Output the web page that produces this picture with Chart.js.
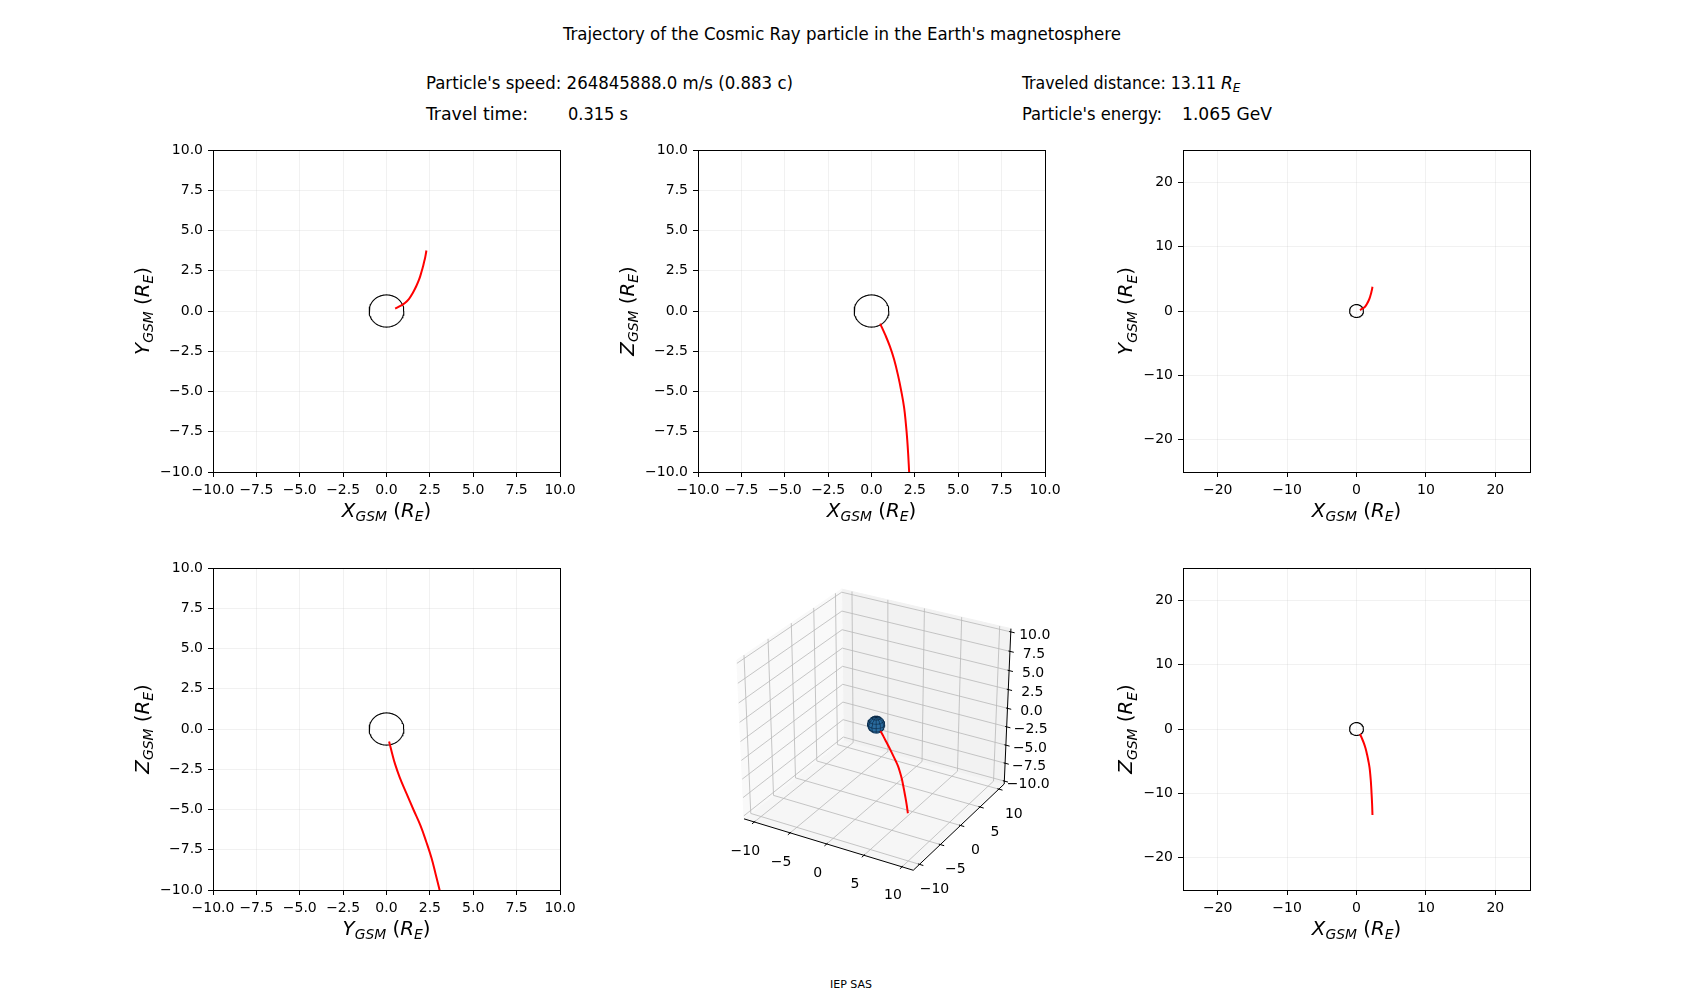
<!DOCTYPE html>
<html>
<head>
<meta charset="utf-8">
<script src="https://cdn.jsdelivr.net/npm/chart.js@4.4.0/dist/chart.umd.min.js"></script>
<style>
  body { margin: 0; background: #fff; width: 1700px; height: 1000px; position: relative; overflow: hidden; }
  canvas { position: absolute; }
  .txt { position: absolute; white-space: nowrap; font-family: 'DejaVu Sans Condensed', 'DejaVu Sans', sans-serif;
         font-size: 17px; line-height: 20px; height: 20px; transform-origin: 0 50%; color: #000; }
  .math { position: absolute; white-space: nowrap; font-family: 'DejaVu Sans', sans-serif; font-size: 17px;
          line-height: 20px; height: 20px; color: #000; }
  .math sub { font-size: 12px; vertical-align: -3px; }
  #foot { position: absolute; left: 0; width: 1702px; top: 978px; text-align: center;
          font-family: 'DejaVu Sans', sans-serif; font-size: 11px; color: #000; }
</style>
</head>
<body>
<div class="txt" data-w="558" style="left:563px;top:24px">Trajectory of the Cosmic Ray particle in the Earth's magnetosphere</div>
<div class="txt" data-w="367" style="left:426px;top:73px">Particle's speed: 264845888.0 m/s (0.883 c)</div>
<div class="txt" data-w="102" style="left:426px;top:104px">Travel time:</div>
<div class="txt" data-w="60" style="left:568px;top:104px">0.315 s</div>
<div class="txt" data-w="194" style="left:1022px;top:73px">Traveled distance: 13.11</div>
<div class="math" style="left:1221px;top:73px"><i>R</i><sub><i>E</i></sub></div>
<div class="txt" data-w="140" style="left:1022px;top:104px">Particle's energy:</div>
<div class="txt" data-w="90" style="left:1182px;top:104px">1.065 GeV</div>
<div id="foot">IEP SAS</div>

<script>
// trajectory of the particle (in Earth radii)
const trajX = [0.50, 0.80, 1.06, 1.30, 1.53, 1.72, 1.88, 1.98, 2.06, 2.12, 2.17, 2.22, 2.26, 2.30];
const trajY = [0.15, 0.32, 0.50, 0.76, 1.15, 1.55, 1.96, 2.29, 2.59, 2.83, 3.06, 3.28, 3.50, 3.76];
const trajZ = [-0.78, -1.5, -2.2, -3.0, -4.0, -5.0, -6.0, -7.0, -8.0, -9.0, -10.0, -11.0, -12.0, -13.35];
const earthRadius = 1;

// tick values
const ticksNear = [-10, -7.5, -5, -2.5, 0, 2.5, 5, 7.5, 10];
const ticksWide = [-20, -10, 0, 10, 20];
const ticks3dXY = [-10, -5, 0, 5, 10];
const ticks3dZ = [-10, -7.5, -5, -2.5, 0, 2.5, 5, 7.5, 10];

const traj = { x: trajX, y: trajY, z: trajZ };

// layout of the subplots (page pixels)
const PANEL_W = 347, PANEL_H = 322;
const PAD_L = 110, PAD_T = 15, PAD_R = 30, PAD_B = 65;
const LABEL_SIZE = 19.8;
const TICK_FONT = { family: 'DejaVu Sans', size: 14 };

const panels = [
  { left: 213,  top: 150, h: 'x', v: 'y', lim: 10, ticks: ticksNear, dec: 1 },
  { left: 698,  top: 150, h: 'x', v: 'z', lim: 10, ticks: ticksNear, dec: 1 },
  { left: 1183, top: 150, h: 'x', v: 'y', lim: 25, ticks: ticksWide, dec: 0 },
  { left: 213,  top: 568, h: 'y', v: 'z', lim: 10, ticks: ticksNear, dec: 1 },
  { left: 1183, top: 568, h: 'x', v: 'z', lim: 25, ticks: ticksWide, dec: 0 }
];

function fmt(v, dec) {
  return (v < 0 ? '\u2212' : '') + Math.abs(v).toFixed(dec);
}

function axisLabel(letter) {
  return [
    { t: letter, it: true }, { t: 'GSM', it: true, sub: true },
    { t: ' (' }, { t: 'R', it: true }, { t: 'E', it: true, sub: true }, { t: ')' }
  ];
}

function drawMath(ctx, parts, x0, y0, size, rot) {
  ctx.save();
  ctx.translate(x0, y0);
  ctx.rotate(rot);
  ctx.fillStyle = '#000';
  ctx.textBaseline = 'alphabetic';
  ctx.textAlign = 'left';
  let w = 0;
  const segs = parts.map(p => {
    const fs = p.sub ? size * 0.7 : size;
    const font = (p.it ? 'italic ' : '') + fs + 'px "DejaVu Sans"';
    ctx.font = font;
    const m = ctx.measureText(p.t).width;
    w += m;
    return { t: p.t, sub: p.sub, font: font, m: m };
  });
  let x = -w / 2;
  segs.forEach(s => {
    ctx.font = s.font;
    ctx.fillText(s.t, x, s.sub ? size * 0.22 : 0);
    x += s.m;
  });
  ctx.restore();
}

// black box around the axes
const framePlugin = {
  id: 'frame',
  afterDatasetsDraw(chart) {
    const a = chart.chartArea, ctx = chart.ctx;
    ctx.save();
    ctx.strokeStyle = '#000';
    ctx.lineWidth = 1;
    ctx.strokeRect(a.left + 0.5, a.top + 0.5, a.right - a.left, a.bottom - a.top);
    ctx.restore();
  }
};

// axis titles with subscripts
const mathLabels = {
  id: 'mathLabels',
  afterDraw(chart, args, opts) {
    if (!opts || !opts.x) return;
    const ctx = chart.ctx, a = chart.chartArea;
    drawMath(ctx, opts.x, (a.left + a.right) / 2, a.bottom + 45, LABEL_SIZE, 0);
    ctx.font = TICK_FONT.size + 'px "DejaVu Sans"';
    const widest = Math.max(...chart.scales.y.ticks.map(t => ctx.measureText(t.label).width));
    drawMath(ctx, opts.y, a.left - 10 - widest - 11, (a.top + a.bottom) / 2, LABEL_SIZE, -Math.PI / 2);
  }
};

function earthCircle() {
  const pts = [];
  for (let i = 0; i <= 72; i++) {
    const t = i / 72 * 2 * Math.PI;
    pts.push({ x: earthRadius * Math.cos(t), y: earthRadius * Math.sin(t) });
  }
  return pts;
}

function scaleOpts(p, fit) {
  return {
    type: 'linear',
    min: -p.lim,
    max: p.lim,
    afterBuildTicks: s => { s.ticks = p.ticks.map(v => ({ value: v })); },
    afterFit: fit,
    ticks: {
      autoSkip: false, maxRotation: 0, minRotation: 0, padding: 5,
      color: '#000', font: TICK_FONT,
      callback: v => fmt(v, p.dec)
    },
    grid: {
      color: 'rgba(176,176,176,0.18)', lineWidth: 1,
      tickColor: '#000', tickLength: 5, tickWidth: 1
    },
    border: { display: true, color: '#000', width: 1 }
  };
}

panels.forEach(p => {
  const cv = document.createElement('canvas');
  cv.width = PAD_L + PANEL_W + PAD_R;
  cv.height = PAD_T + PANEL_H + PAD_B;
  cv.style.left = (p.left - PAD_L) + 'px';
  cv.style.top = (p.top - PAD_T) + 'px';
  document.body.appendChild(cv);

  const hs = traj[p.h], vs = traj[p.v];
  new Chart(cv, {
    type: 'scatter',
    data: {
      datasets: [
        {
          data: hs.map((v, i) => ({ x: v, y: vs[i] })),
          showLine: true, borderColor: '#ff0000', borderWidth: 2, pointRadius: 0, tension: 0.4
        },
        {
          data: earthCircle(),
          showLine: true, borderColor: '#000', borderWidth: 1.1, pointRadius: 0, tension: 0
        }
      ]
    },
    options: {
      responsive: false,
      animation: false,
      events: [],
      layout: { padding: { left: 0, top: PAD_T, right: PAD_R, bottom: 0 } },
      plugins: {
        legend: { display: false },
        tooltip: { enabled: false },
        mathLabels: { x: axisLabel(p.h.toUpperCase()), y: axisLabel(p.v.toUpperCase()) }
      },
      scales: {
        x: scaleOpts(p, s => { s.height = PAD_B; }),
        y: scaleOpts(p, s => { s.width = PAD_L; })
      }
    },
    plugins: [framePlugin, mathLabels]
  });
});

// ---------- 3D view (matplotlib style perspective, elev 30, azim -60) ----------
const AZIM = -60, ELEV = 30, DIST = 10;
const LIM3D = { x: [-11, 11], y: [-11, 11], z: [-10, 10] };
const VIEW_LO = -0.95 / DIST, VIEW_HI = 0.9 / DIST;

const dot = (a, b) => a[0] * b[0] + a[1] * b[1] + a[2] * b[2];
const cross = (a, b) => [a[1] * b[2] - a[2] * b[1], a[2] * b[0] - a[0] * b[2], a[0] * b[1] - a[1] * b[0]];
const unit = a => { const l = Math.sqrt(dot(a, a)); return [a[0] / l, a[1] / l, a[2] / l]; };

const az = AZIM * Math.PI / 180, el = ELEV * Math.PI / 180;
const nV = [Math.cos(az) * Math.cos(el), Math.sin(az) * Math.cos(el), Math.sin(el)];
const uV = unit(cross([0, 0, 1], nV));
const vV = cross(nV, uV);

function norm3(x, y, z) {
  return [
    (x - LIM3D.x[0]) / (LIM3D.x[1] - LIM3D.x[0]) - 0.5,
    (y - LIM3D.y[0]) / (LIM3D.y[1] - LIM3D.y[0]) - 0.5,
    (z - LIM3D.z[0]) / (LIM3D.z[1] - LIM3D.z[0]) - 0.5
  ];
}
function proj(x, y, z) {
  const p = norm3(x, y, z);
  const d = DIST - dot(nV, p);
  return { x: dot(uV, p) / d, y: dot(vV, p) / d };
}
const padded = l => { const r = l[1] - l[0]; return [l[0] - r / 48, l[1] + r / 48]; };
const bx = padded(LIM3D.x), by = padded(LIM3D.y), bz = padded(LIM3D.z);

const GAP = { x: NaN, y: NaN };
function segs(list) {
  const out = [];
  list.forEach((s, i) => {
    if (i) out.push(GAP);
    out.push(proj(...s[0]), proj(...s[1]));
  });
  return out;
}

const panes = [
  { pts: [[bx[0], by[0], bz[0]], [bx[0], by[1], bz[0]], [bx[0], by[1], bz[1]], [bx[0], by[0], bz[1]]], col: 'rgb(249,249,249)' },
  { pts: [[bx[0], by[1], bz[0]], [bx[1], by[1], bz[0]], [bx[1], by[1], bz[1]], [bx[0], by[1], bz[1]]], col: 'rgb(242,242,242)' },
  { pts: [[bx[0], by[0], bz[0]], [bx[1], by[0], bz[0]], [bx[1], by[1], bz[0]], [bx[0], by[1], bz[0]]], col: 'rgb(246,246,246)' }
];

const gridSegs = [];
ticks3dXY.forEach(t => {
  gridSegs.push([[bx[0], t, bz[0]], [bx[0], t, bz[1]]]);   // back-left pane, constant y
  gridSegs.push([[t, by[1], bz[0]], [t, by[1], bz[1]]]);   // back-right pane, constant x
  gridSegs.push([[t, by[0], bz[0]], [t, by[1], bz[0]]]);   // floor, constant x
  gridSegs.push([[bx[0], t, bz[0]], [bx[1], t, bz[0]]]);   // floor, constant y
});
ticks3dZ.forEach(t => {
  gridSegs.push([[bx[0], by[0], t], [bx[0], by[1], t]]);
  gridSegs.push([[bx[0], by[1], t], [bx[1], by[1], t]]);
});

const axisSegs = [
  [[bx[0], by[0], bz[0]], [bx[1], by[0], bz[0]]],
  [[bx[1], by[0], bz[0]], [bx[1], by[1], bz[0]]],
  [[bx[1], by[1], bz[0]], [bx[1], by[1], bz[1]]]
];
ticks3dXY.forEach(t => {
  axisSegs.push([[t, by[0] + 0.2, bz[0]], [t, by[0] - 0.5, bz[0]]]);
  axisSegs.push([[bx[1] - 0.2, t, bz[0]], [bx[1] + 0.5, t, bz[0]]]);
});
ticks3dZ.forEach(t => {
  axisSegs.push([[bx[1] - 0.2, by[1], t], [bx[1] + 0.5, by[1], t]]);
});

// earth sphere: outline and a coarse mesh on the visible side
const sphereOutline = [];
for (let i = 0; i <= 60; i++) {
  const t = i / 60 * 2 * Math.PI;
  const c = Math.cos(t) * earthRadius, s = Math.sin(t) * earthRadius;
  sphereOutline.push(proj(c * uV[0] + s * vV[0], c * uV[1] + s * vV[1], c * uV[2] + s * vV[2]));
}
const sphereMesh = [];
function meshPoint(lat, lon) {
  const q = [Math.cos(lat) * Math.cos(lon), Math.cos(lat) * Math.sin(lon), Math.sin(lat)];
  if (dot(q, nV) < 0) { sphereMesh.push(GAP); return; }
  sphereMesh.push(proj(q[0] * earthRadius, q[1] * earthRadius, q[2] * earthRadius));
}
[-60, -30, 0, 30, 60].forEach(la => {
  for (let i = 0; i <= 48; i++) meshPoint(la * Math.PI / 180, i / 48 * 2 * Math.PI);
  sphereMesh.push(GAP);
});
for (let lo = 0; lo < 360; lo += 30) {
  for (let i = 0; i <= 24; i++) meshPoint((-90 + i * 7.5) * Math.PI / 180, lo * Math.PI / 180);
  sphereMesh.push(GAP);
}

const tickLabels3d = {
  id: 'tickLabels3d',
  afterDraw(chart) {
    const ctx = chart.ctx, sx = chart.scales.x, sy = chart.scales.y;
    ctx.save();
    ctx.fillStyle = '#000';
    ctx.font = TICK_FONT.size + 'px "DejaVu Sans"';
    ctx.textAlign = 'center';
    ctx.textBaseline = 'middle';
    const put = (pt, dx, dy, text) => {
      ctx.fillText(text, sx.getPixelForValue(pt.x) + dx, sy.getPixelForValue(pt.y) + dy);
    };
    ticks3dXY.forEach(t => put(proj(t, by[0], bz[0]), -9, 29, fmt(t, 0)));
    ticks3dXY.forEach(t => put(proj(bx[1], t, bz[0]), 15, 25, fmt(t, 0)));
    ticks3dZ.forEach(t => put(proj(bx[1], by[1], t), 24, 3, fmt(t, 1)));
    ctx.restore();
  }
};

const line3d = (data, color, width, order) => ({
  data: data, showLine: true, borderColor: color, borderWidth: width, pointRadius: 0,
  tension: 0, spanGaps: false, clip: false, order: order
});

const datasets3d = [];
datasets3d.push({
  data: trajX.map((v, i) => proj(v, trajY[i], trajZ[i])),
  showLine: true, borderColor: '#ff0000', borderWidth: 2, pointRadius: 0, tension: 0.4, clip: false, order: 1
});
datasets3d.push(line3d(sphereMesh, 'rgba(10,38,66,0.85)', 0.7, 2));
datasets3d.push(Object.assign(line3d(sphereOutline, '#173f63', 1, 3), { fill: 'shape', backgroundColor: '#2a6b9e' }));
datasets3d.push(line3d(segs(axisSegs), '#000', 1, 4));
datasets3d.push(line3d(segs(gridSegs), '#b8b8b8', 0.8, 5));
panes.forEach((pn, i) => {
  const pts = pn.pts.map(q => proj(...q));
  pts.push(pts[0]);
  datasets3d.push(Object.assign(line3d(pts, pn.col, 1, 6 + i), { fill: 'shape', backgroundColor: pn.col }));
});

const cv3 = document.createElement('canvas');
cv3.width = 40 + PANEL_W + 40;
cv3.height = 20 + PANEL_H + 40;
cv3.style.left = (698 - 40) + 'px';
cv3.style.top = (568 - 20) + 'px';
document.body.appendChild(cv3);

new Chart(cv3, {
  type: 'scatter',
  data: { datasets: datasets3d },
  options: {
    responsive: false,
    animation: false,
    events: [],
    layout: { padding: { left: 40, top: 20, right: 40, bottom: 40 } },
    plugins: { legend: { display: false }, tooltip: { enabled: false } },
    scales: {
      x: { type: 'linear', min: VIEW_LO, max: VIEW_HI, display: false },
      y: { type: 'linear', min: VIEW_LO, max: VIEW_HI, display: false }
    }
  },
  plugins: [tickLabels3d]
});

// squeeze the header texts to the widths they have in the figure
document.querySelectorAll('[data-w]').forEach(el => {
  const w = el.getBoundingClientRect().width;
  el.style.transform = 'scaleX(' + (+el.dataset.w / w) + ')';
});
</script>
</body>
</html>
